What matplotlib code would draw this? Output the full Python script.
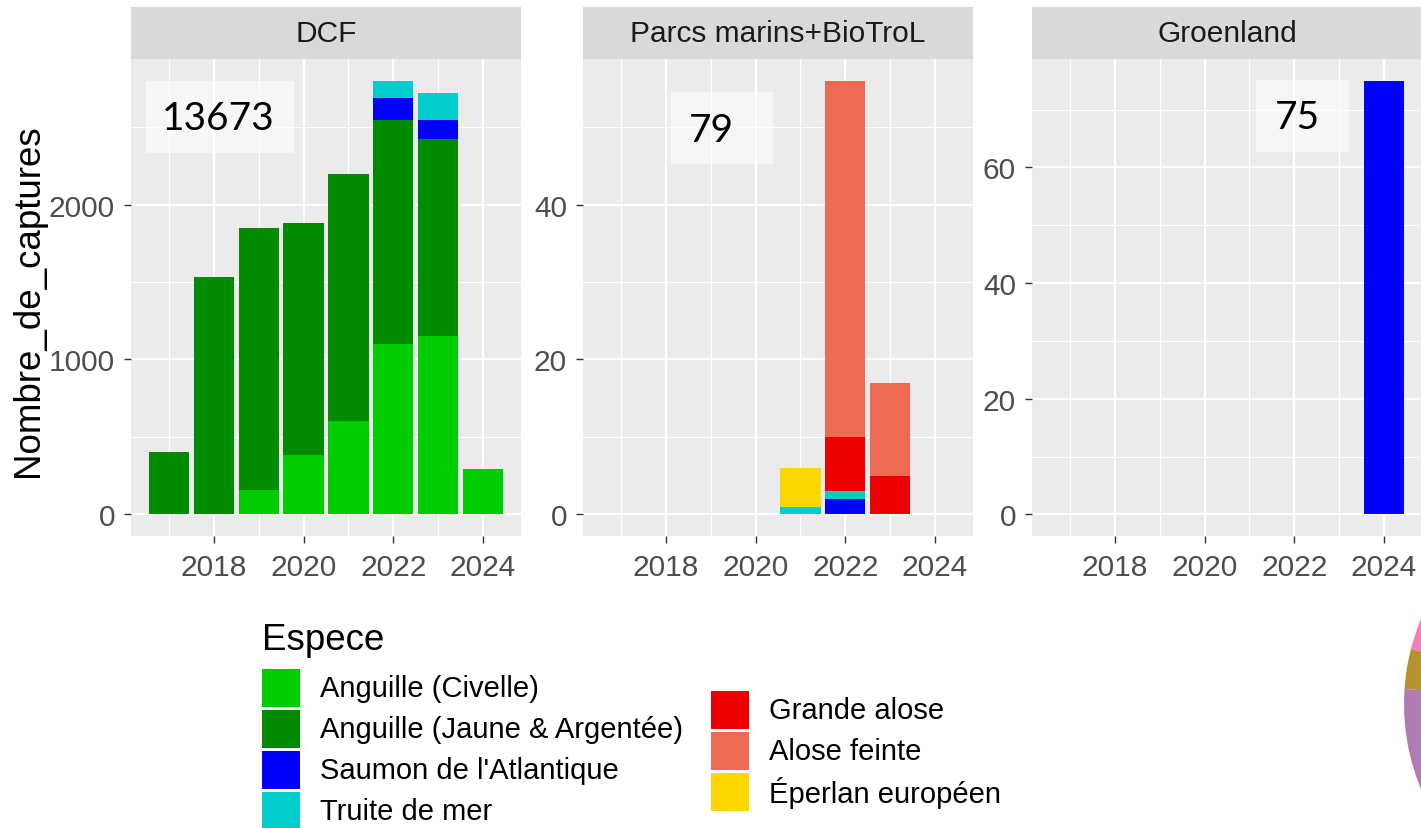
import numpy as np
import matplotlib
matplotlib.use("Agg")
import matplotlib.pyplot as plt
from matplotlib.patches import Rectangle

plt.rcParams['font.family'] = ['Liberation Sans', 'DejaVu Sans']

# ---- data ----
years = [2017, 2018, 2019, 2020, 2021, 2022, 2023, 2024]
especes = ['Anguille (Civelle)', 'Anguille (Jaune & Argentée)', "Saumon de l'Atlantique",
           'Truite de mer', 'Grande alose', 'Alose feinte', 'Éperlan européen']
couleurs = ['#00CD00', '#008B00', '#0000FF', '#00CDCD', '#EE0000', '#EE6A50', '#FFD700']
panels = ['DCF', 'Parcs marins+BioTroL', 'Groenland']

dcf_civelle = [0, 0, 160, 380, 600, 1100, 1150, 295]
dcf_jaune = [400, 1530, 1690, 1500, 1600, 1445, 1273, 0]
dcf_saumon = [0, 0, 0, 0, 0, 145, 125, 0]
dcf_truite = [0, 0, 0, 0, 0, 110, 170, 0]

pm_saumon = [0, 0, 0, 0, 0, 2, 0, 0]
pm_truite = [0, 0, 0, 0, 1, 1, 0, 0]
pm_grande = [0, 0, 0, 0, 0, 7, 5, 0]
pm_feinte = [0, 0, 0, 0, 0, 46, 12, 0]
pm_eperlan = [0, 0, 0, 0, 5, 0, 0, 0]

gr_saumon = [0, 0, 0, 0, 0, 0, 0, 75]

zero = [0] * len(years)
donnees = [
    [dcf_civelle, dcf_jaune, dcf_saumon, dcf_truite, zero, zero, zero],
    [zero, zero, pm_saumon, pm_truite, pm_grande, pm_feinte, pm_eperlan],
    [zero, zero, gr_saumon, zero, zero, zero, zero],
]
y_major = [[0, 1000, 2000], [0, 20, 40], [0, 20, 40, 60]]
y_minor = [[500, 1500, 2500], [10, 30, 50], [10, 30, 50, 70]]

# fragment of a pie at the right edge
pie_vals = [15.6, 10.5, 33.9, 300]
pie_cols = ['#F27FB8', '#B5922F', '#B07AB5', '#FFFFFF']

# ---- figure ----
W, H = 1421, 829
fig = plt.figure(figsize=(W / 100, H / 100), dpi=100)

lefts = [131, 583, 1032]
pw = 390
ptop, pbot = 60, 537
stop = 8

for k, nom in enumerate(panels):
    ax = fig.add_axes([lefts[k] / W, 1 - pbot / H, pw / W, (pbot - ptop) / H])
    ax.set_facecolor('#EBEBEB')
    for s in ax.spines.values():
        s.set_visible(False)
    bas = np.zeros(len(years))
    for vals, c in zip(donnees[k], couleurs):
        v = np.array(vals, dtype=float)
        ax.bar(years, v, width=0.9, bottom=bas, color=c, linewidth=0, zorder=2)
        bas = bas + v
    tmax = bas.max()
    ax.set_ylim(-0.05 * tmax, 1.05 * tmax)
    ax.set_xlim(2016.15, 2024.85)
    ax.set_xticks([2018, 2020, 2022, 2024])
    ax.set_xticks([2017, 2019, 2021, 2023], minor=True)
    ax.set_yticks(y_major[k])
    ax.set_yticks(y_minor[k], minor=True)
    ax.grid(which='major', color='white', linewidth=1.6, zorder=0)
    ax.grid(which='minor', color='white', linewidth=0.8, zorder=0)
    ax.set_axisbelow(True)
    ax.tick_params(which='major', length=5, width=1.0, color='#333333',
                   labelsize=21.5, labelcolor='#4D4D4D')
    ax.tick_params(axis='x', pad=7)
    ax.tick_params(axis='y', pad=6.5)
    ax.tick_params(which='minor', length=0)

    sax = fig.add_axes([lefts[k] / W, 1 - ptop / H, pw / W, (ptop - stop) / H])
    sax.set_facecolor('#D9D9D9')
    sax.set_xticks([])
    sax.set_yticks([])
    for s in sax.spines.values():
        s.set_visible(False)
    sax.text(0.5, 0.5, nom, ha='center', va='center', fontsize=21.5, color='#1A1A1A',
             transform=sax.transAxes)

fig.text(29 / W, 1 - 301 / H, 'Nombre_de_captures', rotation=90, ha='center', va='center',
         fontsize=26.5, color='black')

# pie fragment
r = 221
cx, cy = 1625, 705
pax = fig.add_axes([(cx - r) / W, 1 - (cy + r) / H, 2 * r / W, 2 * r / H])
pax.pie(pie_vals, colors=pie_cols, startangle=150, counterclock=True,
        wedgeprops=dict(linewidth=0))
pax.set_xlim(-1, 1)
pax.set_ylim(-1, 1)
pax.axis('off')

# overlay in pixel coordinates: count boxes and legend
ov = fig.add_axes([0, 0, 1, 1], zorder=10)
ov.set_xlim(0, W)
ov.set_ylim(H, 0)
ov.axis('off')

boites = [(146, 82, 148, 72, 218.5, 119), (671, 93, 102, 72, 711.5, 131), (1256, 81, 93, 72, 1297.5, 118)]
for k, (bx, by, bw, bh, tx, ty) in enumerate(boites):
    total = int(sum(sum(v) for v in donnees[k]))
    ov.add_patch(Rectangle((bx, by), bw, bh, facecolor='white', alpha=0.6, linewidth=0))
    ov.text(tx, ty, str(total), ha='center', va='center', fontsize=28, family='Lato', color='black')

ov.text(262, 650, 'Espece', fontsize=26.5, ha='left', va='baseline', color='black')
col1 = [(262, 670), (262, 711), (262, 752), (262, 793)]
col2 = [(711, 692), (711, 733), (711, 774)]
for (kx, ky), nom, c in zip(col1 + col2, especes, couleurs):
    ov.add_patch(Rectangle((kx, ky), 38, 38, facecolor=c, linewidth=0))
    ov.text(kx + 58, ky + 19, nom, fontsize=21, ha='left', va='center', color='black')

fig.savefig('out.png', dpi=100)
